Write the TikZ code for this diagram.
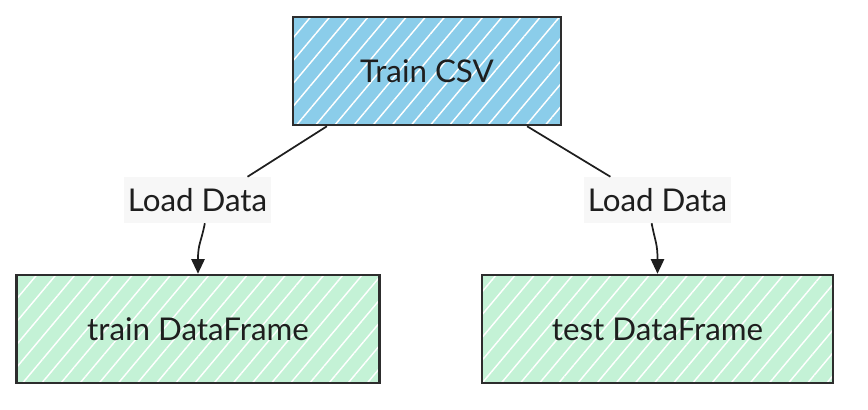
\documentclass[tikz,border=0pt]{standalone}
\usepackage{fontspec}
\setmainfont{Lato}
\usetikzlibrary{patterns.meta,arrows.meta,calc}
\definecolor{csvblue}{RGB}{139,205,234}
\definecolor{dfgreen}{RGB}{196,242,214}
\definecolor{ink}{RGB}{30,30,30}
\definecolor{edge}{RGB}{45,45,45}
\definecolor{lblbg}{RGB}{247,247,247}
\tikzset{
  txt/.style={text=ink, font=\fontsize{23.5}{28}\selectfont},
  boxbase/.style={draw=edge, line width=1.9pt, minimum height=81pt, inner sep=0pt, txt},
  hatch/.style={pattern={Lines[angle=50,distance=11pt,line width=1.1pt]}, pattern color=white},
  lbl/.style={fill=lblbg, txt, inner xsep=1pt, minimum height=34.5pt, minimum width=110pt},
  conn/.style={draw=ink, line width=1.3pt},
  arr/.style={conn, -{Triangle[length=11pt,width=10pt]}}
}
\begin{document}
\begin{tikzpicture}[x=0.75pt,y=-0.75pt]
\useasboundingbox (0,0) rectangle (868,410);
\node[boxbase, minimum width=201pt, preaction={fill=csvblue}, preaction={hatch}] (csv) at (427,71) {Train CSV};
\node[boxbase, minimum width=272pt, preaction={fill=dfgreen}, preaction={hatch}] (train) at (198,329) {train DataFrame};
\node[boxbase, minimum width=263pt, preaction={fill=dfgreen}, preaction={hatch}] (test) at (657.5,329) {test DataFrame};
\node[lbl] (l1) at (197.5,200) {Load Data};
\node[lbl] (l2) at (657.5,200) {Load Data};
% connector attachment points
\coordinate (s1) at ($(csv.south west)!0.13!(csv.south east)$);
\coordinate (s2) at ($(csv.south west)!0.87!(csv.south east)$);
\coordinate (t1) at ($(l1.north west)!0.84!(l1.north east)$);
\coordinate (t2) at ($(l2.north west)!0.18!(l2.north east)$);
\coordinate (b1) at ($(l1.south west)!0.55!(l1.south east)$);
\coordinate (b2) at ($(l2.south west)!0.46!(l2.south east)$);
\draw[conn] (s1) -- (t1);
\draw[conn] (s2) -- (t2);
\draw[arr] (b1) .. controls ($(b1)+(-4,20)$) and ($(train.north)+(0,-30)$) .. (train.north);
\draw[arr] (b2) .. controls ($(b2)+(4,20)$) and ($(test.north)+(0,-30)$) .. (test.north);
\end{tikzpicture}
\end{document}
